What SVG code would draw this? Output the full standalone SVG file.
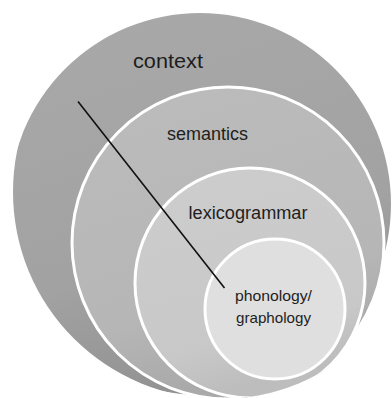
<svg xmlns="http://www.w3.org/2000/svg" width="392" height="398" viewBox="0 0 392 398">
  <style>
    .lbl { font-family: "Liberation Sans", Arial, sans-serif; fill: #1e1e1e; text-anchor: middle; }
    .ring { stroke: #ffffff; stroke-width: 3; }
  </style>
  <defs>
    <clipPath id="cut">
      <circle cx="220" cy="192" r="207"/>
    </clipPath>
    <linearGradient id="g0" x1="0" y1="0" x2="0.3" y2="1">
      <stop offset="0" stop-color="#a9a9a9"/>
      <stop offset="0.7" stop-color="#a2a2a2"/>
      <stop offset="1" stop-color="#939393"/>
    </linearGradient>
    <linearGradient id="g1" x1="0" y1="0" x2="0.3" y2="1">
      <stop offset="0" stop-color="#bcbcbc"/>
      <stop offset="0.75" stop-color="#b6b6b6"/>
      <stop offset="1" stop-color="#a9a9a9"/>
    </linearGradient>
    <linearGradient id="g2" x1="0" y1="0" x2="0.3" y2="1">
      <stop offset="0" stop-color="#cdcdcd"/>
      <stop offset="0.8" stop-color="#c8c8c8"/>
      <stop offset="1" stop-color="#bdbdbd"/>
    </linearGradient>
  </defs>

  <g id="context">
    <circle cx="200" cy="204" r="191" fill="url(#g0)" clip-path="url(#cut)"/>
    <text class="lbl" x="168" y="68" font-size="21" textLength="70" lengthAdjust="spacingAndGlyphs">context</text>
  </g>

  <g id="semantics">
    <circle class="ring" cx="228" cy="243" r="156" fill="url(#g1)" clip-path="url(#cut)"/>
    <text class="lbl" x="207.5" y="140" font-size="17.5" textLength="81" lengthAdjust="spacingAndGlyphs">semantics</text>
  </g>

  <g id="lexicogrammar">
    <circle class="ring" cx="250" cy="283" r="115" fill="url(#g2)" clip-path="url(#cut)"/>
    <text class="lbl" x="248" y="219" font-size="17.5" textLength="119" lengthAdjust="spacingAndGlyphs">lexicogrammar</text>
  </g>

  <g id="phonology-graphology">
    <circle class="ring" cx="275" cy="309" r="70" fill="#dfdfdf" clip-path="url(#cut)"/>
    <text class="lbl" x="273.5" y="301" font-size="15" textLength="77" lengthAdjust="spacingAndGlyphs">phonology/</text>
    <text class="lbl" x="273.5" y="323" font-size="15" textLength="75" lengthAdjust="spacingAndGlyphs">graphology</text>
  </g>

  <g id="connectors">
    <line x1="78" y1="101.5" x2="224.5" y2="288" stroke="#111111" stroke-width="1.6"/>
  </g>
</svg>
